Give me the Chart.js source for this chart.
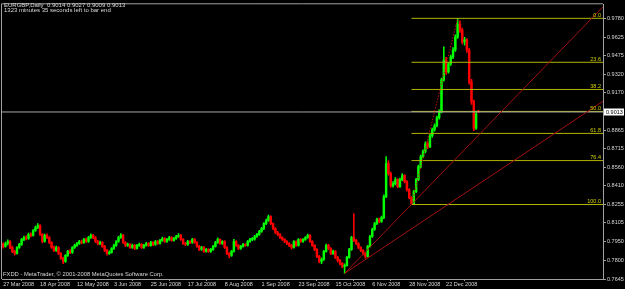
<!DOCTYPE html>
<html>
<head>
<meta charset="utf-8">
<script src="https://cdn.jsdelivr.net/npm/chart.js@4.4.1/dist/chart.umd.min.js"></script>
<style>
    html, body { margin: 0; padding: 0; background: #000; }
    canvas { display: block; }
</style>
</head>
<body>
<canvas id="chart" width="625" height="289"></canvas>
<script>
// EURGBP daily bars, 27 Mar 2008 .. 9 Jan 2009
const opens = [
    0.7930, 0.7912, 0.7936, 0.7952, 0.7903, 0.7871, 0.7854, 0.7903, 0.7928, 0.7969,
    0.7985, 0.7977, 0.8010, 0.8002, 0.8042, 0.8067, 0.8083, 0.8010, 0.7952, 0.8002,
    0.7985, 0.7944, 0.7903, 0.7879, 0.7903, 0.7854, 0.7814, 0.7789, 0.7838, 0.7871,
    0.7863, 0.7903, 0.7920, 0.7936, 0.7952, 0.7944, 0.7969, 0.7952, 0.7985, 0.8002,
    0.7985, 0.7952, 0.7936, 0.7944, 0.7912, 0.7879, 0.7854, 0.7863, 0.7895, 0.7920,
    0.7952, 0.7985, 0.8002, 0.7944, 0.7920, 0.7928, 0.7903, 0.7920, 0.7895, 0.7920,
    0.7928, 0.7903, 0.7920, 0.7936, 0.7920, 0.7944, 0.7928, 0.7952, 0.7936, 0.7961,
    0.7977, 0.7952, 0.7969, 0.7985, 0.7961, 0.7977, 0.7993, 0.8002, 0.7969, 0.7936,
    0.7928, 0.7952, 0.7944, 0.7969, 0.7944, 0.7912, 0.7887, 0.7903, 0.7871, 0.7887,
    0.7871, 0.7887, 0.7912, 0.7944, 0.7969, 0.7936, 0.7952, 0.7903, 0.7854, 0.7838,
    0.7871, 0.7952, 0.7920, 0.7895, 0.7912, 0.7928, 0.7920, 0.7952, 0.7969, 0.7972,
    0.7993, 0.8010, 0.8034, 0.8059, 0.8099, 0.8124, 0.8157, 0.8099, 0.8059, 0.8026,
    0.8010, 0.7985, 0.7969, 0.7952, 0.7936, 0.7920, 0.7903, 0.7952, 0.7920, 0.7969,
    0.7952, 0.7969, 0.7985, 0.8002, 0.7952, 0.7920, 0.7887, 0.7830, 0.7789, 0.7806,
    0.7871, 0.7920, 0.7895, 0.7854, 0.7871, 0.7822, 0.7797, 0.7773, 0.7748, 0.7757,
    0.7822, 0.7887, 0.7985, 0.7961, 0.7936, 0.7903, 0.7879, 0.7854, 0.7830, 0.7912,
    0.7993, 0.8051, 0.8099, 0.8132, 0.8116, 0.8148, 0.8320, 0.8590, 0.8508, 0.8410,
    0.8426, 0.8459, 0.8402, 0.8459, 0.8492, 0.8443, 0.8377, 0.8312, 0.8262, 0.8361,
    0.8459, 0.8565, 0.8647, 0.8688, 0.8753, 0.8729, 0.8818, 0.8868, 0.8900, 0.8966,
    0.9014, 0.9276, 0.9439, 0.9341, 0.9407, 0.9464, 0.9521, 0.9627, 0.9733, 0.9684,
    0.9586, 0.9603, 0.9521, 0.9260, 0.9096, 0.8880, 0.9014
];
const highs = [
    0.7941, 0.7948, 0.7966, 0.7960, 0.7915, 0.7880, 0.7911, 0.7937, 0.7978, 0.7996,
    0.7999, 0.8021, 0.8024, 0.8050, 0.8078, 0.8098, 0.8090, 0.8018, 0.8012, 0.8015,
    0.7992, 0.7952, 0.7914, 0.7915, 0.7910, 0.7862, 0.7825, 0.7846, 0.7880, 0.7885,
    0.7910, 0.7931, 0.7945, 0.7962, 0.7964, 0.7978, 0.7980, 0.7994, 0.8016, 0.8010,
    0.7992, 0.7962, 0.7956, 0.7951, 0.7920, 0.7888, 0.7875, 0.7903, 0.7930, 0.7960,
    0.7994, 0.8018, 0.8010, 0.7952, 0.7940, 0.7936, 0.7930, 0.7928, 0.7929, 0.7940,
    0.7935, 0.7929, 0.7946, 0.7943, 0.7953, 0.7952, 0.7961, 0.7960, 0.7970, 0.7988,
    0.7984, 0.7978, 0.7994, 0.7992, 0.7986, 0.8002, 0.8018, 0.8010, 0.7976, 0.7946,
    0.7961, 0.7960, 0.7978, 0.7976, 0.7951, 0.7920, 0.7912, 0.7910, 0.7896, 0.7894,
    0.7897, 0.7920, 0.7953, 0.7982, 0.7975, 0.7960, 0.7959, 0.7910, 0.7862, 0.7880,
    0.7970, 0.7960, 0.7927, 0.7921, 0.7937, 0.7936, 0.7961, 0.7978, 0.7984, 0.8003,
    0.8020, 0.8043, 0.8068, 0.8108, 0.8135, 0.8168, 0.8163, 0.8106, 0.8066, 0.8036,
    0.8018, 0.7993, 0.7977, 0.7960, 0.7944, 0.7928, 0.7960, 0.7958, 0.7977, 0.7976,
    0.7977, 0.7993, 0.8012, 0.8008, 0.7959, 0.7927, 0.7894, 0.7838, 0.7818, 0.7880,
    0.7932, 0.7928, 0.7902, 0.7882, 0.7878, 0.7830, 0.7806, 0.7780, 0.7770, 0.7830,
    0.7896, 0.7995, 0.8181, 0.7970, 0.7944, 0.7910, 0.7886, 0.7862, 0.7920, 0.8002,
    0.8062, 0.8110, 0.8143, 0.8145, 0.8160, 0.8335, 0.8647, 0.8612, 0.8520, 0.8442,
    0.8475, 0.8468, 0.8472, 0.8508, 0.8500, 0.8452, 0.8385, 0.8320, 0.8372, 0.8470,
    0.8578, 0.8660, 0.8702, 0.8768, 0.8770, 0.8830, 0.8882, 0.8915, 0.8980, 0.9030,
    0.9290, 0.9546, 0.9460, 0.9420, 0.9480, 0.9540, 0.9645, 0.9780, 0.9760, 0.9700,
    0.9625, 0.9615, 0.9535, 0.9280, 0.9110, 0.9020, 0.9027
];
const lows = [
    0.7898, 0.7905, 0.7925, 0.7894, 0.7860, 0.7841, 0.7848, 0.7895, 0.7920, 0.7958,
    0.7965, 0.7970, 0.7990, 0.7995, 0.8035, 0.8058, 0.8001, 0.7940, 0.7946, 0.7975,
    0.7935, 0.7895, 0.7868, 0.7870, 0.7845, 0.7805, 0.7770, 0.7780, 0.7830, 0.7852,
    0.7855, 0.7895, 0.7911, 0.7928, 0.7933, 0.7937, 0.7942, 0.7945, 0.7978, 0.7976,
    0.7943, 0.7925, 0.7927, 0.7903, 0.7868, 0.7840, 0.7846, 0.7856, 0.7888, 0.7912,
    0.7945, 0.7978, 0.7936, 0.7910, 0.7912, 0.7895, 0.7896, 0.7886, 0.7889, 0.7912,
    0.7895, 0.7896, 0.7913, 0.7911, 0.7914, 0.7919, 0.7921, 0.7928, 0.7930, 0.7953,
    0.7944, 0.7945, 0.7961, 0.7953, 0.7954, 0.7970, 0.7985, 0.7960, 0.7928, 0.7918,
    0.7920, 0.7935, 0.7937, 0.7936, 0.7903, 0.7878, 0.7880, 0.7862, 0.7864, 0.7862,
    0.7863, 0.7880, 0.7905, 0.7937, 0.7928, 0.7929, 0.7895, 0.7845, 0.7818, 0.7830,
    0.7865, 0.7911, 0.7886, 0.7888, 0.7905, 0.7911, 0.7914, 0.7945, 0.7958, 0.7964,
    0.7986, 0.8002, 0.8027, 0.8050, 0.8090, 0.8116, 0.8090, 0.8050, 0.8017, 0.8000,
    0.7976, 0.7960, 0.7943, 0.7927, 0.7910, 0.7890, 0.7898, 0.7912, 0.7914, 0.7944,
    0.7945, 0.7962, 0.7978, 0.7944, 0.7911, 0.7878, 0.7820, 0.7776, 0.7770, 0.7798,
    0.7864, 0.7885, 0.7844, 0.7846, 0.7812, 0.7785, 0.7760, 0.7735, 0.7691, 0.7750,
    0.7815, 0.7880, 0.7950, 0.7926, 0.7894, 0.7868, 0.7843, 0.7816, 0.7824, 0.7905,
    0.7985, 0.8043, 0.8090, 0.8105, 0.8108, 0.8140, 0.8312, 0.8495, 0.8395, 0.8398,
    0.8415, 0.8390, 0.8395, 0.8450, 0.8432, 0.8365, 0.8300, 0.8255, 0.8258, 0.8352,
    0.8450, 0.8555, 0.8636, 0.8678, 0.8712, 0.8720, 0.8805, 0.8855, 0.8890, 0.8955,
    0.9005, 0.9265, 0.9320, 0.9330, 0.9395, 0.9450, 0.9510, 0.9615, 0.9665, 0.9570,
    0.9560, 0.9500, 0.9240, 0.9075, 0.8860, 0.8870, 0.9009
];
const closes = [
    0.7912, 0.7936, 0.7952, 0.7903, 0.7871, 0.7854, 0.7903, 0.7928, 0.7969, 0.7985,
    0.7977, 0.8010, 0.8002, 0.8042, 0.8067, 0.8083, 0.8010, 0.7952, 0.8002, 0.7985,
    0.7944, 0.7903, 0.7879, 0.7903, 0.7854, 0.7814, 0.7789, 0.7838, 0.7871, 0.7863,
    0.7903, 0.7920, 0.7936, 0.7952, 0.7944, 0.7969, 0.7952, 0.7985, 0.8002, 0.7985,
    0.7952, 0.7936, 0.7944, 0.7912, 0.7879, 0.7854, 0.7863, 0.7895, 0.7920, 0.7952,
    0.7985, 0.8002, 0.7944, 0.7920, 0.7928, 0.7903, 0.7920, 0.7895, 0.7920, 0.7928,
    0.7903, 0.7920, 0.7936, 0.7920, 0.7944, 0.7928, 0.7952, 0.7936, 0.7961, 0.7977,
    0.7952, 0.7969, 0.7985, 0.7961, 0.7977, 0.7993, 0.8002, 0.7969, 0.7936, 0.7928,
    0.7952, 0.7944, 0.7969, 0.7944, 0.7912, 0.7887, 0.7903, 0.7871, 0.7887, 0.7871,
    0.7887, 0.7912, 0.7944, 0.7969, 0.7936, 0.7952, 0.7903, 0.7854, 0.7838, 0.7871,
    0.7952, 0.7920, 0.7895, 0.7912, 0.7928, 0.7920, 0.7952, 0.7969, 0.7972, 0.7993,
    0.8010, 0.8034, 0.8059, 0.8099, 0.8124, 0.8157, 0.8099, 0.8059, 0.8026, 0.8010,
    0.7985, 0.7969, 0.7952, 0.7936, 0.7920, 0.7903, 0.7952, 0.7920, 0.7969, 0.7952,
    0.7969, 0.7985, 0.8002, 0.7952, 0.7920, 0.7887, 0.7830, 0.7789, 0.7806, 0.7871,
    0.7920, 0.7895, 0.7854, 0.7871, 0.7822, 0.7797, 0.7773, 0.7748, 0.7757, 0.7822,
    0.7887, 0.7985, 0.7961, 0.7936, 0.7903, 0.7879, 0.7854, 0.7830, 0.7912, 0.7993,
    0.8051, 0.8099, 0.8132, 0.8116, 0.8148, 0.8320, 0.8590, 0.8508, 0.8410, 0.8426,
    0.8459, 0.8402, 0.8459, 0.8492, 0.8443, 0.8377, 0.8312, 0.8262, 0.8361, 0.8459,
    0.8565, 0.8647, 0.8688, 0.8753, 0.8729, 0.8818, 0.8868, 0.8900, 0.8966, 0.9014,
    0.9276, 0.9439, 0.9341, 0.9407, 0.9464, 0.9521, 0.9627, 0.9733, 0.9684, 0.9586,
    0.9603, 0.9521, 0.9260, 0.9096, 0.8880, 0.8998, 0.9013
];

// axis labels
const dateTicks = ['27 Mar 2008', '18 Apr 2008', '12 May 2008', '3 Jun 2008', '25 Jun 2008', '17 Jul 2008',
    '8 Aug 2008', '1 Sep 2008', '23 Sep 2008', '15 Oct 2008', '6 Nov 2008', '28 Nov 2008', '22 Dec 2008'];
const dateTickBars = [0, 16, 32, 48, 64, 80, 96, 112, 128, 144, 160, 176, 192];
const priceTicks = [0.9780, 0.9625, 0.9475, 0.9320, 0.9170, 0.8865, 0.8715, 0.8560, 0.8410,
    0.8255, 0.8105, 0.7950, 0.7800, 0.7645];

// drawing objects
const fibLevels = [0, 23.6, 38.2, 50, 61.8, 76.4, 100];
const fibHighBar = 197, fibHighPrice = 0.9780;
const fibLowBar = 177, fibLowPrice = 0.8255;
const trendA = [{ x: 148, y: 0.7691 }, { x: 260, y: 0.9875 }];
const trendB = [{ x: 148, y: 0.7691 }, { x: 260, y: 0.9101 }];
const bidPrice = 0.9013;
const lastBar = closes.length - 1;

const UP = '#00ff00';
const DOWN = '#ff0000';
const FONT = 'Liberation Sans';

const fibPrice = (lvl) => fibHighPrice - (fibHighPrice - fibLowPrice) * lvl / 100;
const candleColors = closes.map((c, i) => (c >= opens[i] ? UP : DOWN));

const overlay = {
    id: 'overlay',
    beforeDraw(chart) {
        const { ctx, width, height } = chart;
        ctx.save();
        ctx.fillStyle = '#000';
        ctx.fillRect(0, 0, width, height);
        ctx.restore();
    },
    afterDraw(chart) {
        const { ctx, chartArea: a, scales: { y } } = chart;
        ctx.save();

        // frame on the top and left
        ctx.strokeStyle = '#a0a0a0';
        ctx.lineWidth = 1;
        ctx.beginPath();
        ctx.moveTo(a.left - 0.5, a.bottom);
        ctx.lineTo(a.left - 0.5, a.top - 0.5);
        ctx.lineTo(a.right, a.top - 0.5);
        ctx.stroke();

        // fibo level captions
        ctx.font = `5.5px ${FONT}`;
        ctx.fillStyle = '#d0d000';
        ctx.textAlign = 'right';
        ctx.textBaseline = 'bottom';
        fibLevels.forEach((lvl) => {
            ctx.fillText(lvl.toFixed(1), a.right - 2, y.getPixelForValue(fibPrice(lvl)) - 0.5);
        });

        // bid price box on the axis
        const py = Math.round(y.getPixelForValue(bidPrice));
        ctx.fillStyle = '#ffffff';
        ctx.fillRect(a.right + 1, py - 3.5, 20, 7);
        ctx.fillStyle = '#000';
        ctx.textAlign = 'left';
        ctx.textBaseline = 'middle';
        ctx.fillText(bidPrice.toFixed(4), a.right + 3, py);

        // header and footer
        ctx.fillStyle = '#d8d8d8';
        ctx.font = `6px ${FONT}`;
        const head = `EURGBP,Daily  ${opens[lastBar].toFixed(4)} ${highs[lastBar].toFixed(4)} ${lows[lastBar].toFixed(4)} ${closes[lastBar].toFixed(4)}`;
        ctx.fillText(head, 4, 5.5);
        ctx.fillText('1323 minutes 35 seconds left to bar end', 4, 10.5);
        ctx.font = `5.8px ${FONT}`;
        ctx.fillText('FXDD - MetaTrader, \u00a9 2001-2008 MetaQuotes Software Corp.', 3, 274);

        ctx.restore();
    }
};

const lineDs = (data, color, extra = {}) => Object.assign({
    type: 'line',
    data,
    borderColor: color,
    borderWidth: 1,
    pointRadius: 0,
    fill: false,
    tension: 0,
    order: 0
}, extra);

const datasets = [
    lineDs(trendA, '#a01010'),
    lineDs(trendB, '#a01010'),
    lineDs([{ x: fibLowBar, y: fibLowPrice }, { x: fibHighBar, y: fibHighPrice }], '#c01010', { borderDash: [1.5, 1.5] }),
    lineDs([{ x: -0.5, y: bidPrice }, { x: 260, y: bidPrice }], '#a8a8a8'),
    ...fibLevels.map((lvl) => lineDs([{ x: fibLowBar, y: fibPrice(lvl) }, { x: 260, y: fibPrice(lvl) }], '#b4b400')),
    {
        type: 'bar',
        data: closes.map((c, i) => ({ x: i, y: [opens[i], c] })),
        backgroundColor: candleColors,
        barThickness: 1.8,
        minBarLength: 1,
        grouped: false,
        borderWidth: 0,
        order: 1
    },
    {
        type: 'bar',
        data: closes.map((c, i) => ({ x: i, y: [lows[i], highs[i]] })),
        backgroundColor: candleColors,
        barThickness: 0.9,
        grouped: false,
        borderWidth: 0,
        order: 2
    }
];

new Chart(document.getElementById('chart'), {
    type: 'bar',
    data: { datasets },
    plugins: [overlay],
    options: {
        responsive: false,
        animation: false,
        layout: { padding: { left: 2, top: 2, right: 0, bottom: 0 } },
        plugins: {
            legend: { display: false },
            tooltip: { enabled: false }
        },
        scales: {
            x: {
                type: 'linear',
                min: -0.5,
                max: 260,
                offset: false,
                afterFit: (scale) => { scale.height = 10; },
                afterBuildTicks: (scale) => { scale.ticks = dateTickBars.map((v) => ({ value: v })); },
                border: { color: '#a0a0a0' },
                grid: { drawOnChartArea: false, tickLength: 2, color: '#a0a0a0' },
                ticks: {
                    autoSkip: false,
                    maxRotation: 0,
                    align: 'start',
                    padding: 0,
                    color: '#d8d8d8',
                    font: { family: FONT, size: 5.5 },
                    callback: (v) => dateTicks[dateTickBars.indexOf(v)]
                }
            },
            y: {
                position: 'right',
                min: 0.7645,
                max: 0.9895,
                afterFit: (scale) => { scale.width = 22; },
                afterBuildTicks: (scale) => { scale.ticks = priceTicks.map((v) => ({ value: v })); },
                border: { color: '#a0a0a0' },
                grid: { drawOnChartArea: false, tickLength: 3, color: '#a0a0a0' },
                ticks: {
                    padding: 1,
                    color: '#d8d8d8',
                    font: { family: FONT, size: 5.5 },
                    callback: (v) => v.toFixed(4)
                }
            }
        }
    }
});
</script>
</body>
</html>
